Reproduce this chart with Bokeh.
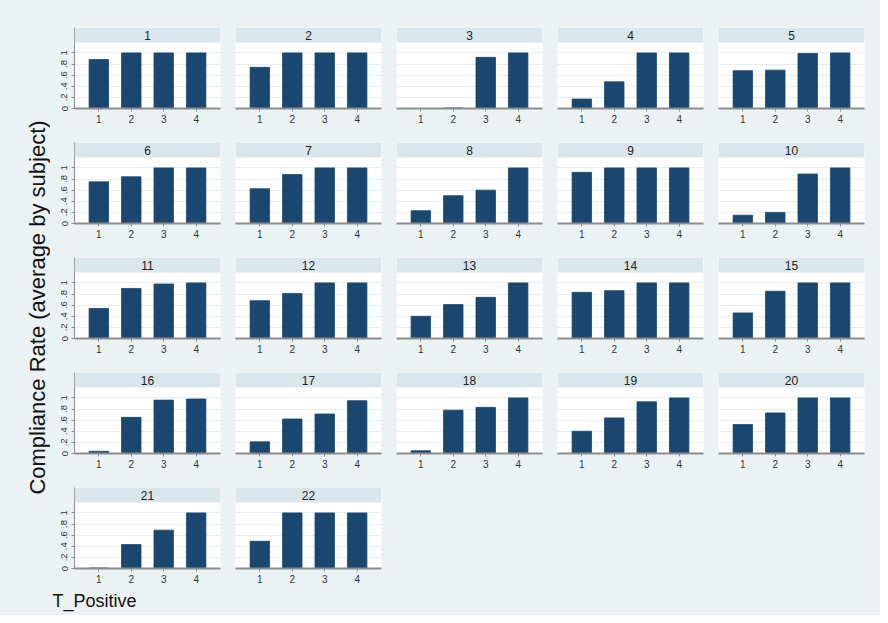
import math
from bokeh.plotting import figure
from bokeh.models import Range1d, Label, BoxAnnotation, FixedTicker
from bokeh.layouts import row, column
from bokeh.embed import file_html
from bokeh.resources import INLINE

# ---------------- data ----------------
T_POSITIVE = [1, 2, 3, 4]
SUBJECTS = list(range(1, 23))
RATE_T1 = [0.88, 0.74, 0.00, 0.17, 0.68, 0.75, 0.625, 0.23, 0.92, 0.15, 0.54,
           0.68, 0.40, 0.83, 0.46, 0.04, 0.21, 0.05, 0.40, 0.52, 0.01, 0.49]
RATE_T2 = [1.00, 1.00, 0.01, 0.48, 0.69, 0.84, 0.88, 0.50, 1.00, 0.20, 0.90,
           0.81, 0.61, 0.86, 0.85, 0.65, 0.62, 0.78, 0.64, 0.73, 0.43, 1.00]
RATE_T3 = [1.00, 1.00, 0.92, 1.00, 0.99, 1.00, 1.00, 0.60, 1.00, 0.89, 0.98,
           1.00, 0.74, 1.00, 1.00, 0.96, 0.71, 0.83, 0.93, 1.00, 0.69, 1.00]
RATE_T4 = [1.00, 1.00, 1.00, 1.00, 1.00, 1.00, 1.00, 1.00, 1.00, 1.00, 1.00,
           1.00, 1.00, 1.00, 1.00, 0.98, 0.95, 1.00, 1.00, 1.00, 1.00, 1.00]
Y_TICKS = [0, 0.2, 0.4, 0.6, 0.8, 1]
Y_TICK_LABELS = ["0", ".2", ".4", ".6", ".8", "1"]
Y_TITLE = "Compliance Rate (average by subject)"
X_TITLE = "T_Positive"

# ---------------- style ----------------
BG = "#EAF2F3"
STRIP = "#D9E6EB"
BAR = "#1A476F"
GRID = "#E6EEF0"
AXIS = "#8C8C8C"
FONT = "Liberation Sans"

NCOLS = 5
FRAME_W = 146
HEADER_H = 15
PLOT_H = 66
FRAME_H = HEADER_H + PLOT_H
UNIT_PX = 55.6
Y_PLOT_TOP = PLOT_H / UNIT_PX
Y_TOP = Y_PLOT_TOP * FRAME_H / PLOT_H
X_START, X_END = 0.25, 4.75

LEFT_W = 50
TOTAL_W = 880
TOTAL_H = 615
FIRST_TOP = 27
ROW_TOP = 14
ROW_BOTTOM = 20


def panel(idx, col, row_i):
    subj = SUBJECTS[idx]
    vals = [RATE_T1[idx], RATE_T2[idx], RATE_T3[idx], RATE_T4[idx]]
    left = 24 if col == 0 else 7
    right = 16 if col == NCOLS - 1 else 8
    top = FIRST_TOP if row_i == 0 else ROW_TOP
    bottom = ROW_BOTTOM
    p = figure(width=left + FRAME_W + right, height=top + FRAME_H + bottom,
               x_range=Range1d(X_START, X_END), y_range=Range1d(0, Y_TOP),
               min_border_left=left, min_border_right=right,
               min_border_top=top, min_border_bottom=bottom,
               toolbar_location=None, output_backend="svg",
               y_axis_location="left" if col == 0 else None)
    p.background_fill_color = "white"
    p.border_fill_color = BG
    p.outline_line_color = None

    p.vbar(x=T_POSITIVE, top=vals, width=0.6, fill_color=BAR,
           line_color=BAR, line_width=0.8)

    p.xgrid.visible = False
    p.ygrid.ticker = FixedTicker(ticks=Y_TICKS)
    p.ygrid.grid_line_color = GRID
    p.ygrid.grid_line_width = 1.2

    xa = p.xaxis[0]
    xa.ticker = FixedTicker(ticks=T_POSITIVE)
    xa.axis_line_color = AXIS
    xa.axis_line_width = 2
    xa.major_tick_line_color = AXIS
    xa.major_tick_in = 0
    xa.major_tick_out = 3
    xa.minor_tick_line_color = None
    xa.major_label_standoff = 3
    xa.major_label_text_font = FONT
    xa.major_label_text_font_size = "10px"
    xa.major_label_text_color = "#333333"

    if col == 0:
        ya = p.yaxis[0]
        ya.ticker = FixedTicker(ticks=Y_TICKS)
        ya.major_label_overrides = dict(zip(Y_TICKS, Y_TICK_LABELS))
        ya.major_label_orientation = "vertical"
        ya.axis_line_color = AXIS
        ya.axis_line_width = 1
        ya.major_tick_line_color = AXIS
        ya.major_tick_in = 0
        ya.major_tick_out = 3
        ya.minor_tick_line_color = None
        ya.major_label_standoff = 4
        ya.major_label_text_font = FONT
        ya.major_label_text_font_size = "9.5px"
        ya.major_label_text_color = "#333333"

    p.add_layout(BoxAnnotation(left=X_START, right=X_END, bottom=Y_PLOT_TOP,
                               top=Y_TOP, fill_color=STRIP, fill_alpha=1,
                               line_color=None))
    p.add_layout(Label(x=(X_START + X_END) / 2, y=(Y_PLOT_TOP + Y_TOP) / 2,
                       text=str(subj), text_align="center",
                       text_baseline="middle", text_font=FONT,
                       text_font_size="12px", text_color="#222222"))
    return p


rows = []
for r in range(math.ceil(len(SUBJECTS) / NCOLS)):
    figs = []
    for c in range(NCOLS):
        i = r * NCOLS + c
        if i < len(SUBJECTS):
            figs.append(panel(i, c, r))
    rows.append(row(*figs))

grid_h = (FIRST_TOP + FRAME_H + ROW_BOTTOM) + (ROW_TOP + FRAME_H + ROW_BOTTOM) * (len(rows) - 1)

left_fig = figure(width=LEFT_W, height=grid_h, x_range=Range1d(0, LEFT_W),
                  y_range=Range1d(0, grid_h), min_border=0,
                  toolbar_location=None, output_backend="svg",
                  x_axis_location=None, y_axis_location=None)
left_fig.background_fill_color = BG
left_fig.border_fill_color = BG
left_fig.outline_line_color = None
left_fig.grid.visible = False
left_fig.add_layout(Label(x=37, y=grid_h - 307, text=Y_TITLE, angle=math.pi / 2,
                          text_align="center", text_baseline="middle",
                          text_font=FONT, text_font_size="22px",
                          text_color="#111111"))

bottom_h = TOTAL_H - grid_h
bottom_fig = figure(width=TOTAL_W, height=bottom_h, x_range=Range1d(0, TOTAL_W),
                    y_range=Range1d(0, bottom_h), min_border=0,
                    toolbar_location=None, output_backend="svg",
                    x_axis_location=None, y_axis_location=None)
bottom_fig.background_fill_color = BG
bottom_fig.border_fill_color = BG
bottom_fig.outline_line_color = None
bottom_fig.grid.visible = False
bottom_fig.add_layout(Label(x=52, y=15, text=X_TITLE,
                            text_align="left", text_baseline="middle",
                            text_font=FONT, text_font_size="18px",
                            text_color="#111111"))

root = column(row(left_fig, column(*rows, styles={"background-color": BG})),
              bottom_fig, styles={"background-color": BG})

open("out.html", "w").write(file_html(root, INLINE))
